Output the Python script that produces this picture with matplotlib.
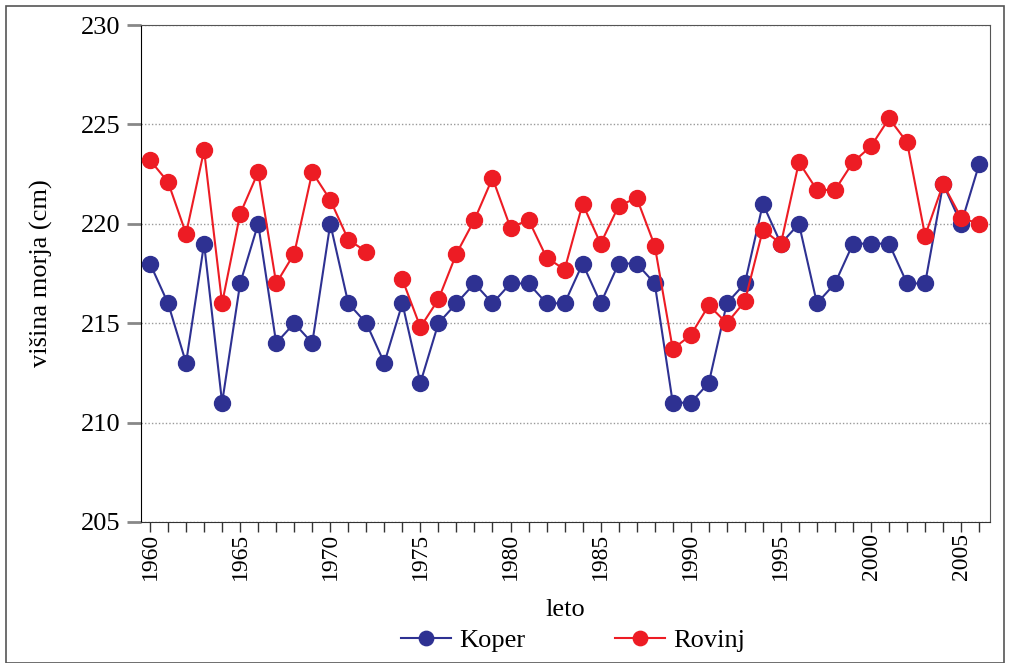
import numpy as np
import matplotlib.pyplot as plt
from matplotlib.patches import Rectangle
from matplotlib.ticker import MultipleLocator

plt.rcParams['font.family'] = ['Liberation Serif', 'DejaVu Serif']

years = list(range(1960, 2007))

koper = [218, 216, 213, 219, 211, 217, 220, 214, 215, 214,
         220, 216, 215, 213, 216, 212, 215, 216, 217, 216,
         217, 217, 216, 216, 218, 216, 218, 218, 217, 211,
         211, 212, 216, 217, 221, 219, 220, 216, 217, 219,
         219, 219, 217, 217, 222, 220, 223]

# 1973 missing for Rovinj
rovinj = [223.2, 222.1, 219.5, 223.7, 216.0, 220.5, 222.6, 217.0, 218.5, 222.6,
          221.2, 219.2, 218.6, np.nan, 217.2, 214.8, 216.2, 218.5, 220.2, 222.3,
          219.8, 220.2, 218.3, 217.7, 221.0, 219.0, 220.9, 221.3, 218.9, 213.7,
          214.4, 215.9, 215.0, 216.1, 219.7, 219.0, 223.1, 221.7, 221.7, 223.1,
          223.9, 225.3, 224.1, 219.4, 222.0, 220.3, 220.0]

blue = '#2e3192'
red = '#ed1c24'

fig = plt.figure(figsize=(10.1, 6.63), dpi=100)
ax = fig.add_axes([141/1010, 1 - 522/663, (990-141)/1010, (522-25)/663])

ax.plot(years, koper, color=blue, lw=1.5, marker='o', ms=11.5, label='Koper', zorder=3)
ax.plot(years, rovinj, color=red, lw=1.5, marker='o', ms=11.5, label='Rovinj', zorder=4)

ax.set_xlim(1959.5, 2006.6)
ax.set_ylim(205, 230)
ax.set_yticks([205, 210, 215, 220, 225, 230])
ax.yaxis.grid(True, linestyle=(0, (1, 1.5)), color='#999999', lw=1)
ax.set_axisbelow(True)

ax.xaxis.set_major_locator(MultipleLocator(5))
ax.xaxis.set_minor_locator(MultipleLocator(1))
ax.tick_params(axis='x', which='both', direction='out', length=7, width=1, color='#333333')
ax.tick_params(axis='x', which='major', labelsize=17, labelrotation=90, pad=1)
ax.tick_params(axis='y', direction='out', length=10, width=2, color='#888888', labelsize=19, pad=5)

for s in ['top', 'right']:
    ax.spines[s].set_color('#555555')
ax.spines['left'].set_color('black')
ax.spines['bottom'].set_color('#333333')

ax.set_ylabel('višina morja (cm)', fontsize=19, labelpad=20)
fig.text(565/1010, 1 - 610/663, 'leto', fontsize=19, ha='center', va='center')

fig.legend(loc='center', bbox_to_anchor=(573/1010, 1 - 640/663), ncol=2, frameon=False,
           fontsize=19, markerscale=0.9, handlelength=1.9, columnspacing=3.4, handletextpad=0.3)

fig.patches.append(Rectangle((6/1010, 0), 998/1010, 1 - 6/663, transform=fig.transFigure,
                             fill=False, edgecolor='#555555', lw=1.2))

fig.savefig('out.png', dpi=100)
